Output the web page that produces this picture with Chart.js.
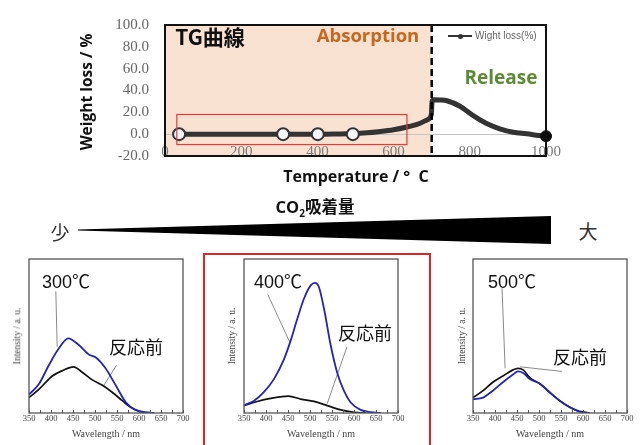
<!DOCTYPE html>
<html><head><meta charset="utf-8">
<script src="https://cdn.jsdelivr.net/npm/chart.js@4.4.1/dist/chart.umd.min.js"></script>
<style>
html,body{margin:0;padding:0;background:#fff;}
#stage{position:relative;width:642px;height:445px;overflow:hidden;background:#fff;}
canvas{position:absolute;}
.t{position:absolute;white-space:nowrap;transform:translate(-50%,-50%);line-height:1;}
.r{transform:translate(-50%,-50%) rotate(-90deg);}
.b{font-family:"Open Sans","Noto Sans CJK JP",sans-serif;font-weight:700;}
.ann{font-family:"Liberation Sans","Noto Sans CJK JP",sans-serif;font-size:18px;color:#111;}
.wl{font-family:"Liberation Serif",serif;font-size:10px;color:#444;}
.it{font-family:"Liberation Serif",serif;font-size:9.5px;color:#444;}
</style></head><body>
<div id="stage">
<canvas id="tg" width="642" height="190" style="left:0;top:0"></canvas>
<canvas id="s300" width="215" height="195" style="left:0;top:250px"></canvas>
<canvas id="s400" width="215" height="195" style="left:215px;top:250px"></canvas>
<canvas id="s500" width="197" height="195" style="left:445px;top:250px"></canvas>

<div class="t b" style="left:210px;top:36px;font-size:21px;color:#111;font-family:'Noto Sans CJK JP',sans-serif;">TG曲線</div>
<div class="t b" style="left:368px;top:35px;font-size:18.5px;color:#c7661c;">Absorption</div>
<div class="t b" style="left:501px;top:77px;font-size:19px;color:#5d8b35;">Release</div>
<div class="t b r" style="left:87px;top:92px;font-size:15.5px;color:#111;">Weight loss / %</div>
<div class="t b" style="left:356px;top:176px;font-size:16px;color:#111;">Temperature / °&nbsp;&nbsp;C</div>
<div style="position:absolute;left:448px;top:35px;width:24px;height:2px;background:#333;"></div>
<div style="position:absolute;left:457.5px;top:33.5px;width:5px;height:5px;border-radius:50%;background:#333;"></div>
<div style="position:absolute;left:475px;top:30px;font-family:'Liberation Sans',sans-serif;font-size:10px;color:#666;white-space:nowrap;line-height:12px;">Wight loss(%)</div>

<div class="t b" style="left:315px;top:207px;font-size:16.5px;color:#111;">CO<span style="font-size:10px;position:relative;top:4px;">2</span>吸着量</div>
<div class="t" style="left:60px;top:231px;font-size:19px;color:#333;font-family:'Noto Sans CJK JP',sans-serif;">少</div>
<div class="t" style="left:588px;top:230px;font-size:19px;color:#333;font-family:'Noto Sans CJK JP',sans-serif;">大</div>
<div style="position:absolute;left:78px;top:216px;width:473px;height:28px;background:#000;clip-path:polygon(0 13.4px,100% 0,100% 100%,0 14.6px);"></div>

<div style="position:absolute;left:203px;top:253px;width:224px;height:200px;border:2px solid #e02424;box-sizing:content-box;"></div>

<div class="t ann" style="left:66px;top:282px;">300℃</div>
<div class="t ann" style="left:136px;top:348px;">反応前</div>
<div class="t ann" style="left:278px;top:282px;">400℃</div>
<div class="t ann" style="left:365px;top:334px;">反応前</div>
<div class="t ann" style="left:512px;top:282px;">500℃</div>
<div class="t ann" style="left:580px;top:358px;">反応前</div>

<div class="t wl" style="left:106px;top:434px;">Wavelength / nm</div>
<div class="t wl" style="left:321px;top:434px;">Wavelength / nm</div>
<div class="t wl" style="left:550px;top:434px;">Wavelength / nm</div>
<div class="t it r" style="left:18px;top:336px;">Intensity / a. u.</div>
<div class="t it r" style="left:233px;top:336px;">Intensity / a. u.</div>
<div class="t it r" style="left:463px;top:336px;">Intensity / a. u.</div>
</div>
<script>
// ---------- TG curve data ----------
const tgTemp   = [37, 100, 200, 310, 401, 450, 493, 530, 560, 600, 640, 670, 690, 699, 701, 706, 722, 740, 774, 809, 844, 879, 914, 949, 993, 1000];
const tgWeight = [0, 0, 0, 0, 0, 0.2, 0.5, 1.2, 2.2, 4, 7, 10, 13.5, 18, 30, 31.6, 31.4, 30.6, 25.6, 17, 9.8, 4.9, 1.7, 0.3, -1.7, -1.8];
const markTemp   = [37, 310, 401, 493];
const markWeight = [0, 0, 0, 0];
const endTemp    = [1000];
const endWeight  = [-1.8];
const tgXTicks = [0, 200, 400, 600, 800, 1000];
const tgYTicks = [-20, 0, 20, 40, 60, 80, 100];
const absorptionEndC = 700;
const focusBoxTemp   = [31, 635];
const focusBoxWeight = [-9.5, 18];

// ---------- PL spectra data ----------
const waveTicks = [350, 400, 450, 500, 550, 600, 650, 700];
const waveMinorTicks = [375, 425, 475, 525, 575, 625, 675];

const w300   = [350, 373, 395, 418, 439, 464, 486, 502, 524, 547, 570, 592, 615, 635];
const i300   = [0.12, 0.19, 0.31, 0.42, 0.485, 0.44, 0.38, 0.36, 0.29, 0.18, 0.07, 0.02, 0.005, 0];
const w300ref = [350, 373, 403, 426, 451, 471, 494, 517, 539, 562, 585, 608, 630];
const i300ref = [0.10, 0.155, 0.24, 0.275, 0.30, 0.265, 0.215, 0.18, 0.135, 0.08, 0.03, 0.005, 0];

const w400   = [350, 373, 395, 418, 441, 456, 471, 486, 502, 511, 520, 532, 547, 562, 577, 592, 615, 638, 661];
const i400   = [0.05, 0.08, 0.135, 0.22, 0.35, 0.47, 0.61, 0.74, 0.83, 0.845, 0.82, 0.675, 0.44, 0.26, 0.145, 0.07, 0.02, 0.005, 0];
const w400ref = [350, 380, 411, 451, 479, 509, 539, 570, 600, 625];
const i400ref = [0.048, 0.075, 0.095, 0.11, 0.09, 0.075, 0.048, 0.02, 0.005, 0];

const w500   = [350, 373, 395, 418, 441, 452, 464, 479, 502, 524, 547, 570, 592, 615];
const i500   = [0.09, 0.10, 0.145, 0.20, 0.25, 0.27, 0.26, 0.22, 0.19, 0.135, 0.08, 0.037, 0.01, 0];
const w500ref = [350, 373, 395, 418, 441, 452, 464, 479, 502, 524, 547, 570, 592, 615];
const i500ref = [0.10, 0.145, 0.20, 0.24, 0.28, 0.29, 0.28, 0.23, 0.19, 0.135, 0.08, 0.037, 0.01, 0];

// leader lines (wavelength, intensity) pairs
const lead300 = [[[411, 0.79], [414, 0.43]], [[549, 0.31], [518, 0.17]]];
const lead400 = [[[404, 0.77], [454, 0.46]], [[584, 0.43], [539, 0.06]]];
const lead500 = [[[416, 0.81], [423, 0.29]], [[552, 0.27], [457, 0.30]]];

const pts = (xs, ys) => xs.map((x, i) => ({x: x, y: ys[i]}));

// ---------- TG chart ----------
const tgPlugin = {
  id: 'tgDeco',
  beforeDraw(chart) {
    const {ctx, chartArea: a, scales: {x, y}} = chart;
    ctx.save();
    ctx.fillStyle = '#fae2d3';
    const xe = x.getPixelForValue(absorptionEndC);
    ctx.fillRect(a.left, a.top, xe - a.left, a.bottom - a.top);
    ctx.restore();
  },
  afterDatasetsDraw(chart) {
    const {ctx, chartArea: a, scales: {x, y}} = chart;
    ctx.save();
    // x tick labels (sit just inside the bottom of the plot, as in the original)
    ctx.fillStyle = '#7a7a7a';
    ctx.font = '15px "Liberation Serif"';
    ctx.textAlign = 'center';
    ctx.textBaseline = 'middle';
    tgXTicks.forEach(v => ctx.fillText(String(v), x.getPixelForValue(v), a.bottom - 4));
    // focus box
    ctx.strokeStyle = '#e23c3c';
    ctx.lineWidth = 1.2;
    const bx0 = x.getPixelForValue(focusBoxTemp[0]), bx1 = x.getPixelForValue(focusBoxTemp[1]);
    const by0 = y.getPixelForValue(focusBoxWeight[1]), by1 = y.getPixelForValue(focusBoxWeight[0]);
    ctx.strokeRect(bx0, by0, bx1 - bx0, by1 - by0);
    // dashed separator
    const xe = x.getPixelForValue(absorptionEndC);
    ctx.strokeStyle = '#000';
    ctx.lineWidth = 2.5;
    ctx.setLineDash([7, 4]);
    ctx.beginPath(); ctx.moveTo(xe, a.top); ctx.lineTo(xe, a.bottom); ctx.stroke();
    ctx.setLineDash([]);
    // frame
    ctx.lineWidth = 2;
    ctx.strokeStyle = '#111';
    ctx.strokeRect(a.left, a.top, a.right - a.left, a.bottom - a.top);
    ctx.restore();
  }
};

new Chart(document.getElementById('tg'), {
  type: 'line',
  data: {datasets: [
    {data: pts(endTemp, endWeight), showLine: false, clip: false, pointRadius: 5.5, pointBackgroundColor: '#0a0a0a', pointBorderColor: '#0a0a0a', pointBorderWidth: 1},
    {data: pts(markTemp, markWeight), showLine: false, clip: false, pointRadius: 6, pointBackgroundColor: '#f3f5f9', pointBorderColor: '#333', pointBorderWidth: 2},
    {label: 'Wight loss(%)', data: pts(tgTemp, tgWeight), borderColor: '#333', borderWidth: 5, pointRadius: 0, cubicInterpolationMode: 'monotone', fill: false}
  ]},
  options: {
    responsive: false, animation: false, devicePixelRatio: 1,
    layout: {padding: {left: 0, right: 96, top: 17, bottom: 0}},
    plugins: {legend: {display: false}, tooltip: {enabled: false}},
    scales: {
      x: {type: 'linear', min: 0, max: 1000,
          afterBuildTicks: s => { s.ticks = tgXTicks.map(v => ({value: v})); },
          ticks: {display: false},
          grid: {display: false, drawTicks: false}, border: {display: false},
          afterFit: s => { s.height = 34; }},
      y: {min: -20, max: 100,
          afterBuildTicks: s => { s.ticks = tgYTicks.map(v => ({value: v})); },
          ticks: {callback: v => Number(v).toFixed(1), font: {family: 'Liberation Serif', size: 15}, color: '#666', padding: 16},
          grid: {color: c => (c.tick && c.tick.value === 0) ? '#c4c4c4' : 'rgba(0,0,0,0)', drawTicks: false, lineWidth: 1},
          border: {display: false},
          afterFit: s => { s.width = 165; }}
    }
  },
  plugins: [tgPlugin]
});

// ---------- spectra ----------
function spectrum(id, padL, padR, wB, iB, wK, iK, leaders) {
  const deco = {
    id: 'spec' + id,
    beforeDatasetsDraw(chart) {
      const {ctx, scales: {x, y}} = chart;
      ctx.save();
      ctx.strokeStyle = '#8a8a8a';
      ctx.lineWidth = 1;
      leaders.forEach(l => {
        ctx.beginPath();
        ctx.moveTo(x.getPixelForValue(l[0][0]), y.getPixelForValue(l[0][1]));
        ctx.lineTo(x.getPixelForValue(l[1][0]), y.getPixelForValue(l[1][1]));
        ctx.stroke();
      });
      ctx.restore();
    },
    afterDatasetsDraw(chart) {
      const {ctx, chartArea: a, scales: {x}} = chart;
      ctx.save();
      ctx.strokeStyle = '#555';
      ctx.lineWidth = 1.3;
      ctx.strokeRect(a.left, a.top, a.right - a.left, a.bottom - a.top);
      ctx.lineWidth = 1;
      waveTicks.concat(waveMinorTicks).forEach(v => {
        const px = Math.round(x.getPixelForValue(v)) + 0.5;
        ctx.beginPath(); ctx.moveTo(px, a.bottom); ctx.lineTo(px, a.bottom - 3); ctx.stroke();
      });
      ctx.restore();
    }
  };
  return new Chart(document.getElementById(id), {
    type: 'line',
    data: {datasets: [
      {data: pts(wB, iB), borderColor: '#2424b8', borderWidth: 1.8, pointRadius: 0, cubicInterpolationMode: 'monotone', fill: false},
      {data: pts(wK, iK), borderColor: '#111', borderWidth: 1.7, pointRadius: 0, cubicInterpolationMode: 'monotone', fill: false}
    ]},
    options: {
      responsive: false, animation: false, devicePixelRatio: 1,
      layout: {padding: {left: padL, right: padR, top: 9, bottom: 0}},
      plugins: {legend: {display: false}, tooltip: {enabled: false}},
      scales: {
        x: {type: 'linear', min: 350, max: 700,
            afterBuildTicks: s => { s.ticks = waveTicks.map(v => ({value: v})); },
            ticks: {font: {family: 'Liberation Serif', size: 8.5}, color: '#444', padding: 1, maxRotation: 0, autoSkip: false},
            grid: {display: false, drawTicks: false}, border: {display: false},
            afterFit: s => { s.height = 32; }},
        y: {display: false, min: 0, max: 1}
      }
    },
    plugins: [deco]
  });
}
spectrum('s300', 29, 32, w300, i300, w300ref, i300ref, lead300);
spectrum('s400', 29, 32, w400, i400, w400ref, i400ref, lead400);
spectrum('s500', 28, 15, w500, i500, w500ref, i500ref, lead500);
</script>
</body></html>
